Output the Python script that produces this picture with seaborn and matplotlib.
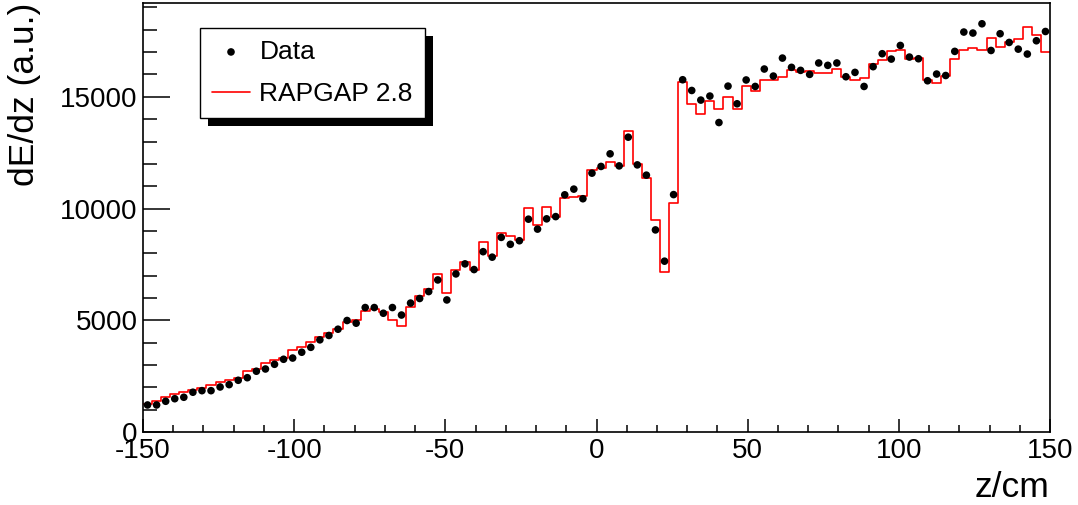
import numpy as np
import pandas as pd
import matplotlib.pyplot as plt
import seaborn as sns
from matplotlib.patches import Rectangle
from matplotlib.ticker import MultipleLocator
from matplotlib.transforms import IdentityTransform

# 100 bins of 3 cm along z
z_edges = np.linspace(-150, 150, 101)
z_centres = 0.5 * (z_edges[:-1] + z_edges[1:])

data_dedz = [
    1210, 1210, 1375, 1490, 1555, 1780, 1850, 1850, 2015, 2120,
    2315, 2430, 2720, 2820, 3030, 3255, 3310, 3570, 3790, 4125,
    4320, 4600, 4990, 4870, 5570, 5570, 5315, 5570, 5235, 5770,
    5975, 6285, 6805, 5910, 7075, 7525, 7270, 8070, 7825, 8710,
    8400, 8560, 9525, 9080, 9540, 9640, 10615, 10870, 10440, 11585,
    11885, 12450, 11910, 13195, 11955, 11495, 9045, 7645, 10625, 15765,
    15285, 14855, 15035, 13850, 15480, 14690, 15755, 15465, 16245, 15930,
    16735, 16320, 16185, 16005, 16515, 16410, 16515, 15900, 16095, 15465,
    16350, 16930, 16690, 17300, 16780, 16705, 15720, 16020, 15955, 17035,
    17900, 17855, 18270, 17075, 17825, 17435, 17135, 16915, 17510, 17925,
]

rapgap_dedz = [
    1255, 1405, 1580, 1690, 1775, 1880, 1985, 2120, 2225, 2330,
    2435, 2730, 2835, 3075, 3225, 3300, 3670, 3795, 4015, 4240,
    4450, 4590, 4935, 5030, 5435, 5495, 5365, 5030, 4750, 5600,
    6105, 6400, 7085, 6240, 7270, 7625, 7255, 8485, 7880, 8905,
    8750, 8600, 10015, 9285, 10090, 9640, 10495, 10510, 10580, 11735,
    11810, 12105, 11910, 13450, 11985, 11390, 9495, 7180, 10270, 15675,
    14690, 14230, 14795, 14460, 14980, 14455, 15495, 15240, 15750, 15760,
    15885, 16210, 16105, 16135, 16060, 16060, 16240, 15870, 15735, 15865,
    16490, 16660, 17030, 17090, 16705, 16735, 15750, 15600, 15945, 16690,
    17075, 17165, 17110, 17630, 17210, 17450, 17585, 18120, 17750, 17005,
]

sns.set_theme(style='ticks')
plt.rcParams['font.family'] = ['Liberation Sans', 'DejaVu Sans']
plt.rcParams['axes.unicode_minus'] = False
plt.rcParams['text.color'] = 'black'
plt.rcParams['axes.labelcolor'] = 'black'

df = pd.DataFrame({'z': z_centres, 'data': data_dedz, 'mc': rapgap_dedz})

fig = plt.figure(figsize=(10.78, 5.05), dpi=100)
ax = fig.add_axes([143 / 1078, 1 - 432 / 505, 907 / 1078, 429 / 505])

sns.histplot(data=df, x='z', weights='mc', binwidth=3, binrange=(-150, 150),
             element='step', fill=False, color='red', linewidth=1.2, ax=ax,
             label='RAPGAP 2.8')
sns.scatterplot(data=df, x='z', y='data', color='black', s=30,
                edgecolor='none', ax=ax, label='Data', zorder=3)

ax.set_xlim(-150, 150)
ax.set_ylim(0, 19200)
ax.xaxis.set_major_locator(MultipleLocator(50))
ax.xaxis.set_minor_locator(MultipleLocator(10))
ax.yaxis.set_major_locator(MultipleLocator(5000))
ax.yaxis.set_minor_locator(MultipleLocator(1000))

ax.tick_params(axis='both', which='both', direction='in', top=False,
               right=False, width=1.1, colors='black', labelsize=20)
ax.tick_params(axis='x', which='major', length=9.5, pad=4)
ax.tick_params(axis='x', which='minor', length=4.7)
ax.tick_params(axis='y', which='major', length=19.5, pad=4)
ax.tick_params(axis='y', which='minor', length=9.8)
for sp in ax.spines.values():
    sp.set_visible(True)
    sp.set_linewidth(1.2)
    sp.set_color('black')

ax.set_xlabel('z/cm', fontsize=25.5, loc='right', color='black')
ax.xaxis.set_label_coords(1.0, -0.09)
ax.set_ylabel('dE/dz (a.u.)', fontsize=25.5, loc='top', color='black')
ax.yaxis.set_label_coords(-0.112, 1.0)

handles, labels = ax.get_legend_handles_labels()
lookup = dict(zip(labels, handles))
order = ['Data', 'RAPGAP 2.8']
leg = ax.legend([lookup[k] for k in order], order, loc='upper left',
                bbox_to_anchor=(200 / 1078, 1 - 28 / 505),
                bbox_transform=fig.transFigure, borderaxespad=0,
                fontsize=19, frameon=True, fancybox=False, framealpha=1,
                edgecolor='black', scatterpoints=1, handlelength=1.45,
                handletextpad=0.35, labelspacing=0.7, borderpad=0.45)
leg.get_frame().set_linewidth(1.0)
leg.set_zorder(6)
for t in leg.get_texts():
    t.set_color('black')

# ROOT-style solid shadow behind the legend box
fig.canvas.draw()
bb = leg.get_window_extent()
shadow = Rectangle((bb.x0 + 8, bb.y0 - 8), bb.width, bb.height,
                   transform=IdentityTransform(), facecolor='black',
                   edgecolor='none', zorder=5.5)
ax.add_patch(shadow)

fig.savefig('out.png', dpi=100)
